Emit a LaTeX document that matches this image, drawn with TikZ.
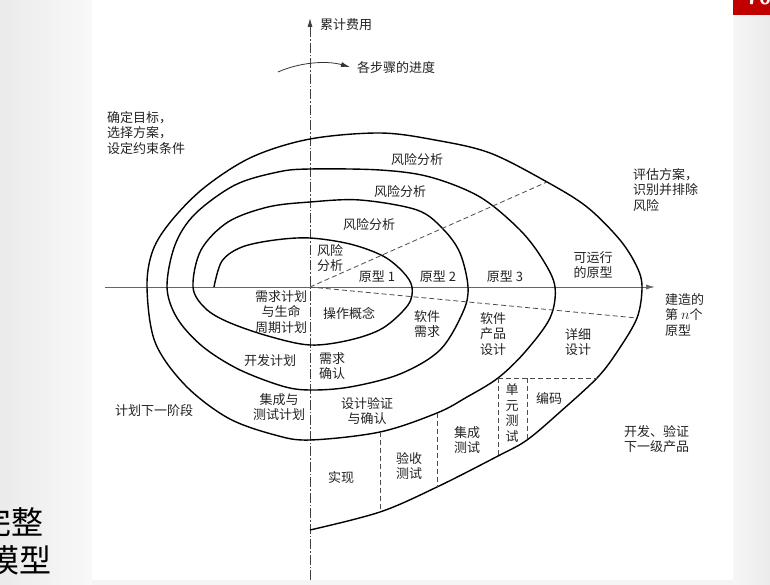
\documentclass[tikz,border=0pt]{standalone}
\usepackage{fontspec}
\setmainfont{Noto Sans CJK SC}
\usepackage{tikz}
\usetikzlibrary{arrows, arrows.meta, calc}
\definecolor{slidered}{RGB}{192,0,0}
\definecolor{testo}{RGB}{35,35,35}
\tikzset{
  >=latex,  % punte di default
  % Etichette
  lbl/.style={font=\fontsize{13}{15.5}\selectfont,text=testo,align=center,inner sep=0pt},
  lbl left/.style={lbl,align=left,anchor=west},
  % Linee
  spirale/.style={line width=1.4pt,black},
  asse/.style={line width=1pt,black!60},
  asse y/.style={line width=0.8pt,black!75,dash pattern=on 10pt off 2pt on 1.5pt off 2pt},
  tratto/.style={line width=0.8pt,black!70,dash pattern=on 5pt off 3pt},
  freccia/.style={-{Latex[length=9pt,width=5pt]}}
}

\begin{document}
\begin{tikzpicture}[x=1pt,y=-1pt]
        \useasboundingbox (0,0) rectangle (770,585);
        \clip (0,0) rectangle (770,585);
        % sfondo della slide
        \shade[left color=gray!16,right color=gray!5] (0,0) rectangle (92,585);
        \shade[left color=gray!7,right color=gray!16] (733,0) rectangle (770,585);
        \fill[white] (92,0) rectangle (733,580);
        \fill[gray!8] (92,580) rectangle (733,585);
        \fill[slidered] (733,0) rectangle (770,15);
        \node[anchor=base,text=white,font=\fontsize{22}{22}\bfseries\sffamily] (pagina) at (759,5) {70};
        \node[anchor=east,font=\fontsize{32}{32}\selectfont] (tit1) at (47,522) {完整};
        \node[anchor=east,font=\fontsize{32}{32}\selectfont] (tit2) at (55,560) {模型};
        % assi
        \coordinate (O) at (310,287);
        \coordinate (ybot) at (310,580);
        \coordinate (ytop) at (310,18);
        \coordinate (xleft) at (105,287);
        \coordinate (xright) at (655,287);
        \draw[asse,freccia] (xleft) -- (xright);
        \draw[asse y] (ybot) -- ($(ytop)+(0,9)$);
        \draw[black!75,line width=0.8pt,freccia] ($(ytop)+(0,10)$) -- (ytop);
        \node[lbl,anchor=west] (costo) at (320,25) {累计费用};
        % progresso
        \coordinate (p1) at (278,72);
        \coordinate (p2) at (350,67);
        \draw[line width=0.8pt,black!80,freccia] (p1) .. controls (298,63) and (325,60) .. (p2);
        \node[lbl,anchor=west] (passi) at (357,68) {各步骤的进度};
        % spirale
        \draw[spirale] plot[smooth,tension=0.55] coordinates {
          (214,287) (222,261) (242,247) (275,240) (310,238) (350,244) (383,256) (403,272) (412,287)
          (408,305) (383,328) (350,340) (310,345) (268,336) (228,322) (205,308) (193,287)
          (201,250) (228,222) (268,207) (310,202) (360,200) (417,210) (443,229) (460,253) (468,287)
          (463,312) (440,350) (400,374) (350,387) (310,390) (282,386) (238,369) (202,346) (177,318) (167,287)
          (175,245) (195,214) (235,185) (278,172) (310,169) (380,170) (430,177) (480,197) (520,230) (543,260) (555,287)
          (550,318) (525,352) (498,378) (467,397) (437,413) (380,432) (310,440) (275,435) (228,418) (185,385) (155,342) (147,287)
          (153,250) (172,220) (205,187) (252,157) (310,139) (380,133) (435,140) (490,153) (547,182) (587,207) (620,240) (637,267) (642,287)
          (637,318) (617,352) (597,378) (560,412) (527,440) (498,456) (437,487) (380,512) (310,530)};
        % tratteggi
        \draw[tratto] (O) -- (547,182);
        \draw[tratto] (O) -- (637,318);
        \draw[tratto] (498,378) -- (597,378);
        \draw[tratto] (498,378) -- (498,456);
        \draw[tratto] (527,378) -- (527,440);
        \draw[tratto] (437,413) -- (437,487);
        \draw[tratto] (380,432) -- (380,512);
        % quadranti
        \node[lbl left] (obiettivi) at (107,133) {确定目标，\\选择方案，\\设定约束条件};
        \node[lbl left] (valuta) at (633,190) {评估方案，\\识别并排除\\风险};
        \node[lbl] (piano) at (154,411) {计划下一阶段};
        \node[lbl left] (sviluppo) at (624,439) {开发、验证\\下一级产品};
        \node[lbl left] (proto n) at (665,315) {建造的\\第 \fontsize{15}{15}\selectfont$n$\fontsize{13}{15.5}\selectfont 个\\原型};
        % rischi e prototipi
        \node[lbl] (r4) at (417,160) {风险分析};
        \node[lbl] (r3) at (400,192) {风险分析};
        \node[lbl] (r2) at (369,225) {风险分析};
        \node[lbl] (r1) at (330,258) {风险\\分析};
        \node[lbl] (pr1) at (377,277) {原型 1};
        \node[lbl] (pr2) at (438,277) {原型 2};
        \node[lbl] (pr3) at (505,277) {原型 3};
        \node[lbl] (pr4) at (593,265) {可运行\\的原型};
        % attività
        \node[lbl] (req) at (281,312) {需求计划\\与生命\\周期计划};
        \node[lbl] (conc) at (349,313) {操作概念};
        \node[lbl] (swreq) at (427,324) {软件\\需求};
        \node[lbl] (prog) at (493,334) {软件\\产品\\设计};
        \node[lbl] (det) at (578,342) {详细\\设计};
        \node[lbl] (dev) at (270,361) {开发计划};
        \node[lbl] (val) at (332,366) {需求\\确认};
        \node[lbl] (integ) at (279,407) {集成与\\测试计划};
        \node[lbl] (verif) at (367,411) {设计验证\\与确认};
        \node[lbl] (unit) at (512,413) {单\\元\\测\\试};
        \node[lbl] (cod) at (549,398) {编码};
        \node[lbl] (itest) at (467,440) {集成\\测试};
        \node[lbl] (acc) at (409,466) {验收\\测试};
        \node[lbl] (impl) at (341,478) {实现};
\end{tikzpicture}
\end{document}
